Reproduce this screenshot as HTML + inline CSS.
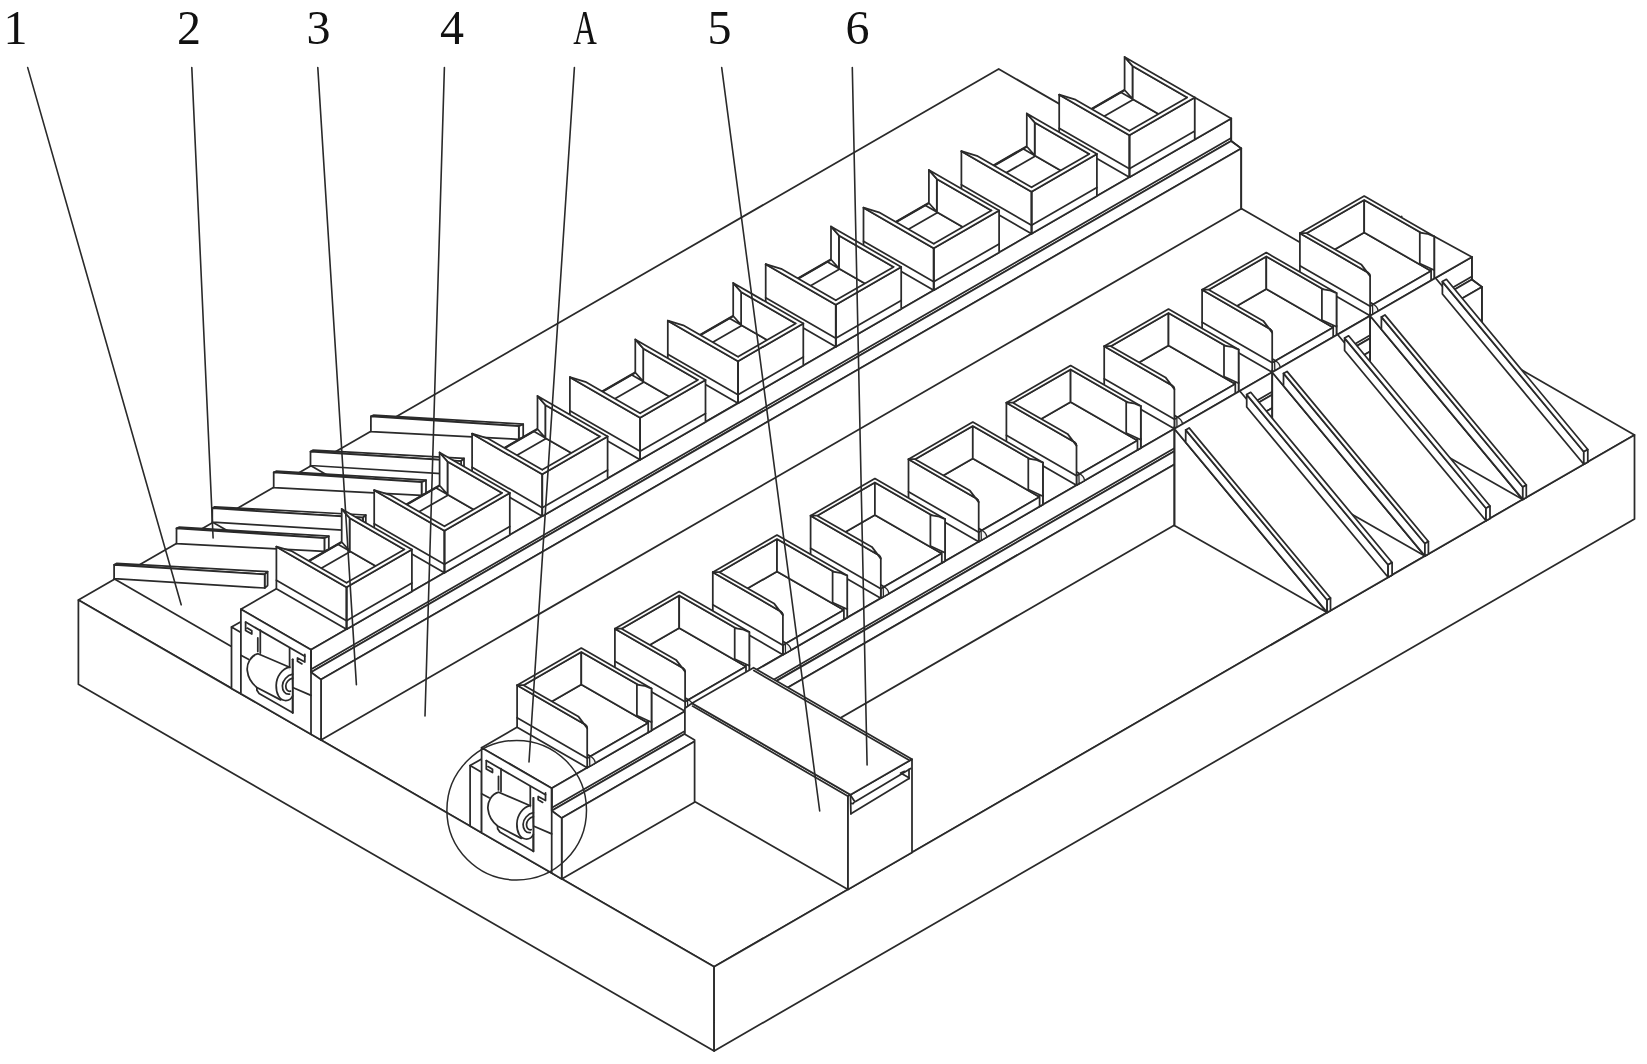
<!DOCTYPE html>
<html><head><meta charset="utf-8"><title>Figure</title>
<style>html,body{margin:0;padding:0;background:#fff;}body{width:1647px;height:1064px;overflow:hidden;font-family:"Liberation Serif",serif;}svg{display:block;filter:blur(0.3px);}</style></head>
<body>
<svg width="1647" height="1064" viewBox="0 0 1647 1064" fill="#fff" stroke="#2a2a2a" stroke-width="1.75" stroke-linejoin="round" stroke-linecap="round">
<path d="M78.4,600.1 L998.7,69.0 L1634.5,434.9 L714.1,966.8 Z" fill="#fff"/>
<path d="M78.4,600.1 L714.1,966.8 L714.1,1051.0 L78.4,684.3 Z" fill="#fff"/>
<path d="M714.1,966.8 L1634.5,434.9 L1634.5,519.1 L714.1,1051.0 Z" fill="#fff"/>
<path d="M114.1,578.7 L231.0,646.2"/>
<path d="M212.3,522.1 L238.3,537.1"/>
<path d="M310.5,465.5 L336.5,480.5"/>
<path d="M370.9,416.4 L373.4,415.2 L523.2,424.2 L518.8,426.2 Z" fill="#fff"/>
<path d="M518.8,426.2 L523.2,424.2 L523.2,437.4 L518.8,439.3 Z" fill="#fff"/>
<path d="M370.9,416.4 L518.8,426.2 L518.8,439.3 L370.9,431.7 Z" fill="#fff"/>
<path d="M310.5,451.6 L312.9,450.2 L464.0,458.4 L461.1,461.1 Z" fill="#fff"/>
<path d="M461.1,461.1 L464.0,458.4 L464.0,472.4 L461.1,474.8 Z" fill="#fff"/>
<path d="M310.5,451.6 L461.1,461.1 L461.1,474.8 L310.5,465.5 Z" fill="#fff"/>
<path d="M273.7,472.4 L276.2,471.2 L426.0,480.2 L421.6,482.2 Z" fill="#fff"/>
<path d="M421.6,482.2 L426.0,480.2 L426.0,493.4 L421.6,495.3 Z" fill="#fff"/>
<path d="M273.7,472.4 L421.6,482.2 L421.6,495.3 L273.7,487.7 Z" fill="#fff"/>
<path d="M212.3,508.2 L214.7,506.8 L365.8,515.0 L362.9,517.7 Z" fill="#fff"/>
<path d="M362.9,517.7 L365.8,515.0 L365.8,529.0 L362.9,531.4 Z" fill="#fff"/>
<path d="M212.3,508.2 L362.9,517.7 L362.9,531.4 L212.3,522.1 Z" fill="#fff"/>
<path d="M176.5,528.4 L179.0,527.2 L328.8,536.2 L324.4,538.2 Z" fill="#fff"/>
<path d="M324.4,538.2 L328.8,536.2 L328.8,549.4 L324.4,551.3 Z" fill="#fff"/>
<path d="M176.5,528.4 L324.4,538.2 L324.4,551.3 L176.5,543.7 Z" fill="#fff"/>
<path d="M114.1,564.8 L116.5,563.4 L267.6,571.6 L264.7,574.3 Z" fill="#fff"/>
<path d="M264.7,574.3 L267.6,571.6 L267.6,585.6 L264.7,588.0 Z" fill="#fff"/>
<path d="M114.1,564.8 L264.7,574.3 L264.7,588.0 L114.1,578.7 Z" fill="#fff"/>
<path d="M240.9,609.2 L311.0,649.7 L1231.2,118.5 L1161.0,78.0 Z" fill="#fff" stroke="none"/>
<path d="M1161.0,78.0 L240.9,609.2 L311.0,649.7 L1231.2,118.5" fill="none"/>
<path d="M311.0,649.7 L1231.2,118.5 L1231.2,141.0 L311.0,672.2 Z" fill="#fff"/>
<path d="M311.6,669.1 L1231.2,137.9"/>
<path d="M311.0,672.2 L1231.2,141.0 L1241.2,148.4 L321.0,679.6 Z" fill="#fff"/>
<path d="M321.0,679.6 L1241.2,148.4 L1241.2,208.8 L321.0,740.0 Z" fill="#fff"/>
<path d="M1063.1,125.5 L1129.4,163.8 L1187.2,130.5 L1120.8,92.2 Z" fill="#fff"/>
<path d="M1063.1,125.5 L1124.6,90.0" stroke-width="2.4"/>
<path d="M1075.5,132.7 L1133.3,99.4"/>
<path d="M1132.5,98.9 L1187.2,130.5 L1187.2,97.5 L1132.5,65.9 Z" fill="#fff"/>
<path d="M1124.6,90.0 L1132.5,98.9 L1132.5,65.9 L1124.6,57.0 Z" fill="#fff"/>
<path d="M1124.6,57.0 L1194.8,97.5 L1187.2,97.5 L1132.5,65.9 Z" fill="#fff" stroke="none"/>
<path d="M1194.8,97.5 L1124.6,57.0 L1132.5,65.9 L1187.2,97.5" fill="none"/>
<path d="M1129.4,177.2 L1194.8,139.5 L1194.8,97.5 L1129.4,135.2 Z" fill="#fff"/>
<path d="M1129.4,168.7 L1194.8,131.0"/>
<path d="M1129.4,135.2 L1194.8,97.5 L1187.2,97.5 L1129.4,130.8 Z" fill="#fff" stroke="none"/>
<path d="M1187.2,97.5 L1129.4,130.8" fill="none"/>
<path d="M1129.4,135.2 L1194.8,97.5"/>
<path d="M1059.2,136.7 L1129.4,177.2 L1129.4,135.2 L1059.2,94.7 Z" fill="#fff"/>
<path d="M1059.2,128.2 L1129.4,168.7"/>
<path d="M1059.2,94.7 L1129.4,135.2 L1129.4,130.8 L1074.7,99.3 Z" fill="#fff" stroke="none"/>
<path d="M1059.2,94.7 L1074.7,99.3 L1129.4,130.8" fill="none"/>
<path d="M1059.2,94.7 L1129.4,135.2"/>
<path d="M1129.4,135.2 L1129.4,177.2"/>
<path d="M1194.8,97.5 L1231.2,118.5 L1194.8,139.5 Z" fill="#fff"/>
<path d="M965.2,182.0 L1031.5,220.3 L1089.3,187.0 L1023.0,148.7 Z" fill="#fff"/>
<path d="M965.2,182.0 L1026.8,146.5" stroke-width="2.4"/>
<path d="M977.7,189.2 L1035.4,155.9"/>
<path d="M1034.7,155.4 L1089.3,187.0 L1089.3,154.0 L1034.7,122.4 Z" fill="#fff"/>
<path d="M1026.8,146.5 L1034.7,155.4 L1034.7,122.4 L1026.8,113.5 Z" fill="#fff"/>
<path d="M1026.8,113.5 L1096.9,154.0 L1089.3,154.0 L1034.7,122.4 Z" fill="#fff" stroke="none"/>
<path d="M1096.9,154.0 L1026.8,113.5 L1034.7,122.4 L1089.3,154.0" fill="none"/>
<path d="M1031.5,233.7 L1096.9,196.0 L1096.9,154.0 L1031.5,191.7 Z" fill="#fff"/>
<path d="M1031.5,225.2 L1096.9,187.5"/>
<path d="M1031.5,191.7 L1096.9,154.0 L1089.3,154.0 L1031.5,187.3 Z" fill="#fff" stroke="none"/>
<path d="M1089.3,154.0 L1031.5,187.3" fill="none"/>
<path d="M1031.5,191.7 L1096.9,154.0"/>
<path d="M961.4,193.2 L1031.5,233.7 L1031.5,191.7 L961.4,151.2 Z" fill="#fff"/>
<path d="M961.4,184.7 L1031.5,225.2"/>
<path d="M961.4,151.2 L1031.5,191.7 L1031.5,187.3 L976.9,155.8 Z" fill="#fff" stroke="none"/>
<path d="M961.4,151.2 L976.9,155.8 L1031.5,187.3" fill="none"/>
<path d="M961.4,151.2 L1031.5,191.7"/>
<path d="M1031.5,191.7 L1031.5,233.7"/>
<path d="M867.3,238.5 L933.7,276.8 L991.4,243.5 L925.1,205.2 Z" fill="#fff"/>
<path d="M867.3,238.5 L928.9,203.0" stroke-width="2.4"/>
<path d="M879.8,245.7 L937.6,212.4"/>
<path d="M936.8,211.9 L991.4,243.5 L991.4,210.5 L936.8,178.9 Z" fill="#fff"/>
<path d="M928.9,203.0 L936.8,211.9 L936.8,178.9 L928.9,170.0 Z" fill="#fff"/>
<path d="M928.9,170.0 L999.1,210.5 L991.4,210.5 L936.8,178.9 Z" fill="#fff" stroke="none"/>
<path d="M999.1,210.5 L928.9,170.0 L936.8,178.9 L991.4,210.5" fill="none"/>
<path d="M933.7,290.2 L999.1,252.5 L999.1,210.5 L933.7,248.2 Z" fill="#fff"/>
<path d="M933.7,281.7 L999.1,244.0"/>
<path d="M933.7,248.2 L999.1,210.5 L991.4,210.5 L933.7,243.8 Z" fill="#fff" stroke="none"/>
<path d="M991.4,210.5 L933.7,243.8" fill="none"/>
<path d="M933.7,248.2 L999.1,210.5"/>
<path d="M863.5,249.7 L933.7,290.2 L933.7,248.2 L863.5,207.7 Z" fill="#fff"/>
<path d="M863.5,241.2 L933.7,281.7"/>
<path d="M863.5,207.7 L933.7,248.2 L933.7,243.8 L879.0,212.3 Z" fill="#fff" stroke="none"/>
<path d="M863.5,207.7 L879.0,212.3 L933.7,243.8" fill="none"/>
<path d="M863.5,207.7 L933.7,248.2"/>
<path d="M933.7,248.2 L933.7,290.2"/>
<path d="M769.5,295.0 L835.8,333.3 L893.6,300.0 L827.2,261.7 Z" fill="#fff"/>
<path d="M769.5,295.0 L831.0,259.5" stroke-width="2.4"/>
<path d="M781.9,302.2 L839.7,268.9"/>
<path d="M838.9,268.4 L893.6,300.0 L893.6,267.0 L838.9,235.4 Z" fill="#fff"/>
<path d="M831.0,259.5 L838.9,268.4 L838.9,235.4 L831.0,226.5 Z" fill="#fff"/>
<path d="M831.0,226.5 L901.2,267.0 L893.6,267.0 L838.9,235.4 Z" fill="#fff" stroke="none"/>
<path d="M901.2,267.0 L831.0,226.5 L838.9,235.4 L893.6,267.0" fill="none"/>
<path d="M835.8,346.7 L901.2,309.0 L901.2,267.0 L835.8,304.7 Z" fill="#fff"/>
<path d="M835.8,338.2 L901.2,300.5"/>
<path d="M835.8,304.7 L901.2,267.0 L893.6,267.0 L835.8,300.3 Z" fill="#fff" stroke="none"/>
<path d="M893.6,267.0 L835.8,300.3" fill="none"/>
<path d="M835.8,304.7 L901.2,267.0"/>
<path d="M765.7,306.2 L835.8,346.7 L835.8,304.7 L765.7,264.2 Z" fill="#fff"/>
<path d="M765.7,297.7 L835.8,338.2"/>
<path d="M765.7,264.2 L835.8,304.7 L835.8,300.3 L781.2,268.8 Z" fill="#fff" stroke="none"/>
<path d="M765.7,264.2 L781.2,268.8 L835.8,300.3" fill="none"/>
<path d="M765.7,264.2 L835.8,304.7"/>
<path d="M835.8,304.7 L835.8,346.7"/>
<path d="M671.6,351.5 L738.0,389.8 L795.7,356.5 L729.4,318.2 Z" fill="#fff"/>
<path d="M671.6,351.5 L733.2,316.0" stroke-width="2.4"/>
<path d="M684.1,358.7 L741.8,325.4"/>
<path d="M741.1,324.9 L795.7,356.5 L795.7,323.5 L741.1,291.9 Z" fill="#fff"/>
<path d="M733.2,316.0 L741.1,324.9 L741.1,291.9 L733.2,283.0 Z" fill="#fff"/>
<path d="M733.2,283.0 L803.3,323.5 L795.7,323.5 L741.1,291.9 Z" fill="#fff" stroke="none"/>
<path d="M803.3,323.5 L733.2,283.0 L741.1,291.9 L795.7,323.5" fill="none"/>
<path d="M738.0,403.2 L803.3,365.5 L803.3,323.5 L738.0,361.2 Z" fill="#fff"/>
<path d="M738.0,394.7 L803.3,357.0"/>
<path d="M738.0,361.2 L803.3,323.5 L795.7,323.5 L738.0,356.8 Z" fill="#fff" stroke="none"/>
<path d="M795.7,323.5 L738.0,356.8" fill="none"/>
<path d="M738.0,361.2 L803.3,323.5"/>
<path d="M667.8,362.7 L738.0,403.2 L738.0,361.2 L667.8,320.7 Z" fill="#fff"/>
<path d="M667.8,354.2 L738.0,394.7"/>
<path d="M667.8,320.7 L738.0,361.2 L738.0,356.8 L683.3,325.3 Z" fill="#fff" stroke="none"/>
<path d="M667.8,320.7 L683.3,325.3 L738.0,356.8" fill="none"/>
<path d="M667.8,320.7 L738.0,361.2"/>
<path d="M738.0,361.2 L738.0,403.2"/>
<path d="M573.8,408.0 L640.1,446.3 L697.9,413.0 L631.5,374.7 Z" fill="#fff"/>
<path d="M573.8,408.0 L635.3,372.5" stroke-width="2.4"/>
<path d="M586.2,415.2 L644.0,381.9"/>
<path d="M643.2,381.4 L697.9,413.0 L697.9,380.0 L643.2,348.4 Z" fill="#fff"/>
<path d="M635.3,372.5 L643.2,381.4 L643.2,348.4 L635.3,339.5 Z" fill="#fff"/>
<path d="M635.3,339.5 L705.5,380.0 L697.9,380.0 L643.2,348.4 Z" fill="#fff" stroke="none"/>
<path d="M705.5,380.0 L635.3,339.5 L643.2,348.4 L697.9,380.0" fill="none"/>
<path d="M640.1,459.7 L705.5,422.0 L705.5,380.0 L640.1,417.7 Z" fill="#fff"/>
<path d="M640.1,451.2 L705.5,413.5"/>
<path d="M640.1,417.7 L705.5,380.0 L697.9,380.0 L640.1,413.3 Z" fill="#fff" stroke="none"/>
<path d="M697.9,380.0 L640.1,413.3" fill="none"/>
<path d="M640.1,417.7 L705.5,380.0"/>
<path d="M569.9,419.2 L640.1,459.7 L640.1,417.7 L569.9,377.2 Z" fill="#fff"/>
<path d="M569.9,410.7 L640.1,451.2"/>
<path d="M569.9,377.2 L640.1,417.7 L640.1,413.3 L585.4,381.8 Z" fill="#fff" stroke="none"/>
<path d="M569.9,377.2 L585.4,381.8 L640.1,413.3" fill="none"/>
<path d="M569.9,377.2 L640.1,417.7"/>
<path d="M640.1,417.7 L640.1,459.7"/>
<path d="M475.9,464.5 L542.2,502.8 L600.0,469.4 L533.7,431.2 Z" fill="#fff"/>
<path d="M475.9,464.5 L537.5,429.0" stroke-width="2.4"/>
<path d="M488.4,471.7 L546.1,438.4"/>
<path d="M545.3,437.9 L600.0,469.4 L600.0,436.4 L545.3,404.9 Z" fill="#fff"/>
<path d="M537.5,429.0 L545.3,437.9 L545.3,404.9 L537.5,396.0 Z" fill="#fff"/>
<path d="M537.5,396.0 L607.6,436.5 L600.0,436.4 L545.3,404.9 Z" fill="#fff" stroke="none"/>
<path d="M607.6,436.5 L537.5,396.0 L545.3,404.9 L600.0,436.4" fill="none"/>
<path d="M542.2,516.2 L607.6,478.5 L607.6,436.5 L542.2,474.2 Z" fill="#fff"/>
<path d="M542.2,507.7 L607.6,470.0"/>
<path d="M542.2,474.2 L607.6,436.5 L600.0,436.4 L542.2,469.8 Z" fill="#fff" stroke="none"/>
<path d="M600.0,436.4 L542.2,469.8" fill="none"/>
<path d="M542.2,474.2 L607.6,436.5"/>
<path d="M472.1,475.7 L542.2,516.2 L542.2,474.2 L472.1,433.7 Z" fill="#fff"/>
<path d="M472.1,467.2 L542.2,507.7"/>
<path d="M472.1,433.7 L542.2,474.2 L542.2,469.8 L487.6,438.3 Z" fill="#fff" stroke="none"/>
<path d="M472.1,433.7 L487.6,438.3 L542.2,469.8" fill="none"/>
<path d="M472.1,433.7 L542.2,474.2"/>
<path d="M542.2,474.2 L542.2,516.2"/>
<path d="M378.0,521.0 L444.4,559.3 L502.1,526.0 L435.8,487.7 Z" fill="#fff"/>
<path d="M378.0,521.0 L439.6,485.5" stroke-width="2.4"/>
<path d="M390.5,528.2 L448.3,494.9"/>
<path d="M447.5,494.4 L502.1,526.0 L502.1,493.0 L447.5,461.4 Z" fill="#fff"/>
<path d="M439.6,485.5 L447.5,494.4 L447.5,461.4 L439.6,452.5 Z" fill="#fff"/>
<path d="M439.6,452.5 L509.8,493.0 L502.1,493.0 L447.5,461.4 Z" fill="#fff" stroke="none"/>
<path d="M509.8,493.0 L439.6,452.5 L447.5,461.4 L502.1,493.0" fill="none"/>
<path d="M444.4,572.7 L509.8,535.0 L509.8,493.0 L444.4,530.7 Z" fill="#fff"/>
<path d="M444.4,564.2 L509.8,526.5"/>
<path d="M444.4,530.7 L509.8,493.0 L502.1,493.0 L444.4,526.3 Z" fill="#fff" stroke="none"/>
<path d="M502.1,493.0 L444.4,526.3" fill="none"/>
<path d="M444.4,530.7 L509.8,493.0"/>
<path d="M374.2,532.2 L444.4,572.7 L444.4,530.7 L374.2,490.2 Z" fill="#fff"/>
<path d="M374.2,523.7 L444.4,564.2"/>
<path d="M374.2,490.2 L444.4,530.7 L444.4,526.3 L389.7,494.8 Z" fill="#fff" stroke="none"/>
<path d="M374.2,490.2 L389.7,494.8 L444.4,526.3" fill="none"/>
<path d="M374.2,490.2 L444.4,530.7"/>
<path d="M444.4,530.7 L444.4,572.7"/>
<path d="M280.2,577.5 L346.5,615.8 L404.3,582.5 L337.9,544.2 Z" fill="#fff"/>
<path d="M280.2,577.5 L341.7,542.0" stroke-width="2.4"/>
<path d="M292.6,584.7 L350.4,551.4"/>
<path d="M349.6,550.9 L404.3,582.5 L404.3,549.5 L349.6,517.9 Z" fill="#fff"/>
<path d="M341.7,542.0 L349.6,550.9 L349.6,517.9 L341.7,509.0 Z" fill="#fff"/>
<path d="M341.7,509.0 L411.9,549.5 L404.3,549.5 L349.6,517.9 Z" fill="#fff" stroke="none"/>
<path d="M411.9,549.5 L341.7,509.0 L349.6,517.9 L404.3,549.5" fill="none"/>
<path d="M346.5,629.2 L411.9,591.5 L411.9,549.5 L346.5,587.2 Z" fill="#fff"/>
<path d="M346.5,620.7 L411.9,583.0"/>
<path d="M346.5,587.2 L411.9,549.5 L404.3,549.5 L346.5,582.8 Z" fill="#fff" stroke="none"/>
<path d="M404.3,549.5 L346.5,582.8" fill="none"/>
<path d="M346.5,587.2 L411.9,549.5"/>
<path d="M276.4,588.7 L346.5,629.2 L346.5,587.2 L276.4,546.7 Z" fill="#fff"/>
<path d="M276.4,580.2 L346.5,620.7"/>
<path d="M276.4,546.7 L346.5,587.2 L346.5,582.8 L291.9,551.2 Z" fill="#fff" stroke="none"/>
<path d="M276.4,546.7 L291.9,551.2 L346.5,582.8" fill="none"/>
<path d="M276.4,546.7 L346.5,587.2"/>
<path d="M346.5,587.2 L346.5,629.2"/>
<path d="M1231.2,118.5 L1231.2,141.0"/>
<path d="M1231.2,141.0 L1241.2,148.4"/>
<path d="M1241.2,148.4 L1241.2,208.8"/>
<path d="M231.5,627.1 L240.9,632.5 L240.9,693.8 L231.5,688.4 Z" fill="#fff"/>
<path d="M231.5,627.1 L240.9,621.7"/>
<path d="M240.9,609.2 L311.0,649.7 L311.0,672.2 L321.0,679.6 L321.0,740.0 L311.0,734.3 L240.9,693.8 Z" fill="#fff"/>
<path d="M311.0,649.7 L311.0,734.3"/>
<path d="M245.6,622.1 L304.8,656.3" fill="none"/>
<path d="M245.6,622.1 L245.6,630.5 L251.8,634.1 L251.8,630.7 L247.3,628.1" fill="none"/>
<path d="M304.8,654.3 L304.8,662.1 L297.5,657.9 L297.5,661.3 L302.0,663.9" fill="none"/>
<path d="M260.3,630.2 L260.3,653.1"/>
<path d="M257.8,637.9 L257.8,651.4"/>
<path d="M289.6,648.0 L289.6,667.2"/>
<path d="M292.7,659.3 L292.7,712.8"/>
<path d="M240.9,655.3 L248.4,659.3"/>
<path d="M292.7,687.5 L311.0,695.4"/>
<path d="M256.9,687.5 L256.9,690.3 L259.1,693.6 L292.7,712.8" fill="none"/>
<path d="M258.0,653.7 C250.5,655.7 246.5,663.7 247.3,670.7 C248.0,677.7 252.0,683.7 256.9,687.5 L280.6,699.9 L289.6,667.2 Z" fill="#fff"/>
<path d="M289.6,667.2 C282.0,668.7 276.5,676.7 276.2,685.2 C276.0,693.7 279.5,700.2 285.0,700.5 C288.5,700.7 291.5,698.7 292.7,695.7" fill="#fff"/>
<path d="M292.7,674.2 C287.0,675.2 282.5,680.7 282.4,685.7 C282.3,690.7 285.0,694.7 289.5,694.2" fill="none"/>
<path d="M292.7,678.2 C288.5,679.2 285.8,682.7 285.8,686.0 C285.8,689.2 287.5,691.7 290.5,691.2" fill="none"/>
<path d="M292.7,659.3 L292.7,712.8"/>
<path d="M481.6,747.7 L551.7,788.2 L1471.9,257.0 L1401.7,216.5 Z" fill="#fff" stroke="none"/>
<path d="M1401.7,216.5 L481.6,747.7 L551.7,788.2 L1471.9,257.0" fill="none"/>
<path d="M551.7,788.2 L1471.9,257.0 L1471.9,279.5 L551.7,810.7 Z" fill="#fff"/>
<path d="M552.3,807.6 L1471.9,276.4"/>
<path d="M551.7,810.7 L1471.9,279.5 L1481.9,286.9 L561.7,818.1 Z" fill="#fff"/>
<path d="M561.7,818.1 L1481.9,286.9 L1481.9,347.6 L561.7,878.9 Z" fill="#fff"/>
<path d="M1471.9,257.0 L1471.9,279.5"/>
<path d="M1471.9,279.5 L1481.9,286.9"/>
<path d="M1481.9,286.9 L1481.9,347.6"/>
<path d="M1306.5,265.7 L1373.4,304.3 L1431.1,271.0 L1364.2,232.4 Z" fill="#fff"/>
<path d="M1370.1,315.7 L1434.4,278.6 L1434.4,269.1 L1370.1,306.2 Z" fill="#fff"/>
<path d="M1306.5,265.7 L1364.2,232.4 L1364.2,199.9 L1306.5,233.2 Z" fill="#fff"/>
<path d="M1364.2,232.4 L1431.1,271.0 L1431.1,238.5 L1364.2,199.9 Z" fill="#fff"/>
<path d="M1299.9,233.2 L1364.2,196.1 L1364.2,199.9 L1306.5,233.2 Z" fill="#fff" stroke="none"/>
<path d="M1364.2,196.1 L1434.4,236.6 L1431.1,238.5 L1364.2,199.9 Z" fill="#fff" stroke="none"/>
<path d="M1299.9,233.2 L1364.2,196.1 L1434.4,236.6" fill="none"/>
<path d="M1306.5,233.2 L1364.2,199.9 L1431.1,238.5" fill="none"/>
<path d="M1431.1,280.5 L1434.4,278.6 L1434.4,236.6 L1431.1,238.5 Z" fill="#fff"/>
<path d="M1419.8,232.6 L1427.4,233.8 L1434.4,236.6 L1434.4,270.2 L1419.8,263.5 Z" fill="#fff"/>
<path d="M1299.9,275.2 L1370.1,315.7 L1370.1,276.1 Q1370.0,273.9 1367.8,272.4 L1299.9,233.2 Z" fill="#fff"/>
<path d="M1299.9,265.7 L1370.1,306.2"/>
<path d="M1299.9,233.2 L1367.8,272.4 Q1370.0,273.9 1370.1,276.1 L1361.2,264.4 L1306.5,233.2 Z" fill="#fff"/>
<path d="M1372.5,304.2 Q1377.7,306.2 1378.1,311.1 L1372.7,314.3 L1372.5,304.2 Z" fill="#f4f4f4" stroke-width="1.3"/>
<path d="M1434.4,236.6 L1471.9,257.0 L1434.4,278.6 Z" fill="#fff"/>
<path d="M1370.1,315.7 L1522.8,499.4 L1370.1,412.4 Z" fill="#fff"/>
<path d="M1370.1,313.7 L1370.1,412.4"/>
<path d="M1370.1,315.7 L1522.8,499.4 L1588.2,461.7 L1435.5,278.0 Z" fill="#fff"/>
<path d="M1442.4,294.0 L1583.8,464.2 L1583.8,451.8 L1442.4,281.6 Z" fill="#fff"/>
<path d="M1442.4,281.6 L1583.8,451.8 L1587.8,449.5 L1446.4,279.3 Z" fill="#fff"/>
<path d="M1583.8,464.2 L1587.8,461.9 L1587.8,449.5 L1583.8,451.8 Z" fill="#fff"/>
<path d="M1381.4,329.3 L1522.8,499.4 L1522.8,487.0 L1381.4,316.9 Z" fill="#fff"/>
<path d="M1381.4,316.9 L1522.8,487.0 L1526.3,485.0 L1384.9,314.9 Z" fill="#fff"/>
<path d="M1522.8,499.4 L1526.3,497.4 L1526.3,485.0 L1522.8,487.0 Z" fill="#fff"/>
<path d="M1208.7,322.2 L1275.5,360.8 L1333.2,327.5 L1266.3,288.9 Z" fill="#fff"/>
<path d="M1272.2,372.2 L1336.5,335.1 L1336.5,325.6 L1272.2,362.7 Z" fill="#fff"/>
<path d="M1208.7,322.2 L1266.3,288.9 L1266.3,256.4 L1208.7,289.7 Z" fill="#fff"/>
<path d="M1266.3,288.9 L1333.2,327.5 L1333.2,295.0 L1266.3,256.4 Z" fill="#fff"/>
<path d="M1202.1,289.7 L1266.3,252.6 L1266.3,256.4 L1208.7,289.7 Z" fill="#fff" stroke="none"/>
<path d="M1266.3,252.6 L1336.5,293.1 L1333.2,295.0 L1266.3,256.4 Z" fill="#fff" stroke="none"/>
<path d="M1202.1,289.7 L1266.3,252.6 L1336.5,293.1" fill="none"/>
<path d="M1208.7,289.7 L1266.3,256.4 L1333.2,295.0" fill="none"/>
<path d="M1333.2,337.0 L1336.5,335.1 L1336.5,293.1 L1333.2,295.0 Z" fill="#fff"/>
<path d="M1321.9,289.1 L1329.5,290.3 L1336.5,293.1 L1336.5,326.7 L1321.9,320.0 Z" fill="#fff"/>
<path d="M1202.1,331.7 L1272.2,372.2 L1272.2,332.6 Q1272.1,330.4 1270.0,328.9 L1202.1,289.7 Z" fill="#fff"/>
<path d="M1202.1,322.2 L1272.2,362.7"/>
<path d="M1202.1,289.7 L1270.0,328.9 Q1272.1,330.4 1272.2,332.6 L1263.3,320.9 L1208.7,289.7 Z" fill="#fff"/>
<path d="M1274.6,360.7 Q1279.8,362.7 1280.2,367.6 L1274.8,370.8 L1274.6,360.7 Z" fill="#f4f4f4" stroke-width="1.3"/>
<path d="M1272.2,372.2 L1424.9,555.9 L1272.2,468.9 Z" fill="#fff"/>
<path d="M1272.2,370.2 L1272.2,468.9"/>
<path d="M1272.2,372.2 L1424.9,555.9 L1490.3,518.2 L1337.6,334.5 Z" fill="#fff"/>
<path d="M1344.6,350.5 L1486.0,520.7 L1486.0,508.3 L1344.6,338.1 Z" fill="#fff"/>
<path d="M1344.6,338.1 L1486.0,508.3 L1490.0,506.0 L1348.6,335.8 Z" fill="#fff"/>
<path d="M1486.0,520.7 L1490.0,518.4 L1490.0,506.0 L1486.0,508.3 Z" fill="#fff"/>
<path d="M1283.5,385.8 L1424.9,555.9 L1424.9,543.5 L1283.5,373.4 Z" fill="#fff"/>
<path d="M1283.5,373.4 L1424.9,543.5 L1428.4,541.5 L1287.0,371.4 Z" fill="#fff"/>
<path d="M1424.9,555.9 L1428.4,553.9 L1428.4,541.5 L1424.9,543.5 Z" fill="#fff"/>
<path d="M1110.8,378.7 L1177.7,417.3 L1235.3,384.0 L1168.5,345.4 Z" fill="#fff"/>
<path d="M1174.4,428.7 L1238.6,391.6 L1238.6,382.1 L1174.4,419.2 Z" fill="#fff"/>
<path d="M1110.8,378.7 L1168.5,345.4 L1168.5,312.9 L1110.8,346.2 Z" fill="#fff"/>
<path d="M1168.5,345.4 L1235.3,384.0 L1235.3,351.5 L1168.5,312.9 Z" fill="#fff"/>
<path d="M1104.2,346.2 L1168.5,309.1 L1168.5,312.9 L1110.8,346.2 Z" fill="#fff" stroke="none"/>
<path d="M1168.5,309.1 L1238.6,349.6 L1235.3,351.5 L1168.5,312.9 Z" fill="#fff" stroke="none"/>
<path d="M1104.2,346.2 L1168.5,309.1 L1238.6,349.6" fill="none"/>
<path d="M1110.8,346.2 L1168.5,312.9 L1235.3,351.5" fill="none"/>
<path d="M1235.3,393.5 L1238.6,391.6 L1238.6,349.6 L1235.3,351.5 Z" fill="#fff"/>
<path d="M1224.0,345.6 L1231.6,346.8 L1238.6,349.6 L1238.6,383.2 L1224.0,376.5 Z" fill="#fff"/>
<path d="M1104.2,388.2 L1174.4,428.7 L1174.4,389.1 Q1174.3,386.9 1172.1,385.4 L1104.2,346.2 Z" fill="#fff"/>
<path d="M1104.2,378.7 L1174.4,419.2"/>
<path d="M1104.2,346.2 L1172.1,385.4 Q1174.3,386.9 1174.4,389.1 L1165.5,377.4 L1110.8,346.2 Z" fill="#fff"/>
<path d="M1176.8,417.2 Q1182.0,419.2 1182.4,424.1 L1177.0,427.3 L1176.8,417.2 Z" fill="#f4f4f4" stroke-width="1.3"/>
<path d="M1174.4,428.7 L1327.1,612.4 L1174.4,525.4 Z" fill="#fff"/>
<path d="M1174.4,426.7 L1174.4,525.4"/>
<path d="M1174.4,428.7 L1327.1,612.4 L1392.5,574.7 L1239.8,391.0 Z" fill="#fff"/>
<path d="M1246.7,407.0 L1388.1,577.2 L1388.1,564.8 L1246.7,394.6 Z" fill="#fff"/>
<path d="M1246.7,394.6 L1388.1,564.8 L1392.1,562.5 L1250.7,392.3 Z" fill="#fff"/>
<path d="M1388.1,577.2 L1392.1,574.9 L1392.1,562.5 L1388.1,564.8 Z" fill="#fff"/>
<path d="M1185.7,442.3 L1327.1,612.4 L1327.1,600.0 L1185.7,429.9 Z" fill="#fff"/>
<path d="M1185.7,429.9 L1327.1,600.0 L1330.5,598.0 L1189.1,427.9 Z" fill="#fff"/>
<path d="M1327.1,612.4 L1330.5,610.4 L1330.5,598.0 L1327.1,600.0 Z" fill="#fff"/>
<path d="M1012.9,435.2 L1079.8,473.8 L1137.5,440.5 L1070.6,401.9 Z" fill="#fff"/>
<path d="M1076.5,485.2 L1140.8,448.1 L1140.8,438.6 L1076.5,475.7 Z" fill="#fff"/>
<path d="M1012.9,435.2 L1070.6,401.9 L1070.6,369.4 L1012.9,402.7 Z" fill="#fff"/>
<path d="M1070.6,401.9 L1137.5,440.5 L1137.5,408.0 L1070.6,369.4 Z" fill="#fff"/>
<path d="M1006.4,402.7 L1070.6,365.6 L1070.6,369.4 L1012.9,402.7 Z" fill="#fff" stroke="none"/>
<path d="M1070.6,365.6 L1140.8,406.1 L1137.5,408.0 L1070.6,369.4 Z" fill="#fff" stroke="none"/>
<path d="M1006.4,402.7 L1070.6,365.6 L1140.8,406.1" fill="none"/>
<path d="M1012.9,402.7 L1070.6,369.4 L1137.5,408.0" fill="none"/>
<path d="M1137.5,450.0 L1140.8,448.1 L1140.8,406.1 L1137.5,408.0 Z" fill="#fff"/>
<path d="M1126.2,402.1 L1133.8,403.3 L1140.8,406.1 L1140.8,439.7 L1126.2,433.0 Z" fill="#fff"/>
<path d="M1006.4,444.7 L1076.5,485.2 L1076.5,445.6 Q1076.4,443.4 1074.3,441.9 L1006.4,402.7 Z" fill="#fff"/>
<path d="M1006.4,435.2 L1076.5,475.7"/>
<path d="M1006.4,402.7 L1074.3,441.9 Q1076.4,443.4 1076.5,445.6 L1067.6,433.9 L1012.9,402.7 Z" fill="#fff"/>
<path d="M1078.9,473.7 Q1084.1,475.7 1084.5,480.6 L1079.1,483.8 L1078.9,473.7 Z" fill="#f4f4f4" stroke-width="1.3"/>
<path d="M915.1,491.7 L981.9,530.3 L1039.6,497.0 L972.8,458.4 Z" fill="#fff"/>
<path d="M978.7,541.7 L1042.9,504.6 L1042.9,495.1 L978.7,532.2 Z" fill="#fff"/>
<path d="M915.1,491.7 L972.8,458.4 L972.8,425.9 L915.1,459.2 Z" fill="#fff"/>
<path d="M972.8,458.4 L1039.6,497.0 L1039.6,464.5 L972.8,425.9 Z" fill="#fff"/>
<path d="M908.5,459.2 L972.8,422.1 L972.8,425.9 L915.1,459.2 Z" fill="#fff" stroke="none"/>
<path d="M972.8,422.1 L1042.9,462.6 L1039.6,464.5 L972.8,425.9 Z" fill="#fff" stroke="none"/>
<path d="M908.5,459.2 L972.8,422.1 L1042.9,462.6" fill="none"/>
<path d="M915.1,459.2 L972.8,425.9 L1039.6,464.5" fill="none"/>
<path d="M1039.6,506.5 L1042.9,504.6 L1042.9,462.6 L1039.6,464.5 Z" fill="#fff"/>
<path d="M1028.3,458.6 L1035.9,459.8 L1042.9,462.6 L1042.9,496.2 L1028.3,489.5 Z" fill="#fff"/>
<path d="M908.5,501.2 L978.7,541.7 L978.7,502.1 Q978.6,499.9 976.4,498.4 L908.5,459.2 Z" fill="#fff"/>
<path d="M908.5,491.7 L978.7,532.2"/>
<path d="M908.5,459.2 L976.4,498.4 Q978.6,499.9 978.7,502.1 L969.7,490.4 L915.1,459.2 Z" fill="#fff"/>
<path d="M981.1,530.2 Q986.3,532.2 986.7,537.1 L981.3,540.3 L981.1,530.2 Z" fill="#f4f4f4" stroke-width="1.3"/>
<path d="M817.2,548.2 L884.1,586.8 L941.8,553.5 L874.9,514.9 Z" fill="#fff"/>
<path d="M880.8,598.2 L945.0,561.1 L945.0,551.6 L880.8,588.7 Z" fill="#fff"/>
<path d="M817.2,548.2 L874.9,514.9 L874.9,482.4 L817.2,515.7 Z" fill="#fff"/>
<path d="M874.9,514.9 L941.8,553.5 L941.8,521.0 L874.9,482.4 Z" fill="#fff"/>
<path d="M810.6,515.7 L874.9,478.6 L874.9,482.4 L817.2,515.7 Z" fill="#fff" stroke="none"/>
<path d="M874.9,478.6 L945.0,519.1 L941.8,521.0 L874.9,482.4 Z" fill="#fff" stroke="none"/>
<path d="M810.6,515.7 L874.9,478.6 L945.0,519.1" fill="none"/>
<path d="M817.2,515.7 L874.9,482.4 L941.8,521.0" fill="none"/>
<path d="M941.8,563.0 L945.0,561.1 L945.0,519.1 L941.8,521.0 Z" fill="#fff"/>
<path d="M930.4,515.1 L938.0,516.3 L945.0,519.1 L945.0,552.7 L930.4,546.0 Z" fill="#fff"/>
<path d="M810.6,557.7 L880.8,598.2 L880.8,558.6 Q880.7,556.4 878.5,554.9 L810.6,515.7 Z" fill="#fff"/>
<path d="M810.6,548.2 L880.8,588.7"/>
<path d="M810.6,515.7 L878.5,554.9 Q880.7,556.4 880.8,558.6 L871.9,546.9 L817.2,515.7 Z" fill="#fff"/>
<path d="M883.2,586.7 Q888.4,588.7 888.8,593.6 L883.4,596.8 L883.2,586.7 Z" fill="#f4f4f4" stroke-width="1.3"/>
<path d="M719.4,604.7 L786.2,643.3 L843.9,610.0 L777.0,571.4 Z" fill="#fff"/>
<path d="M782.9,654.7 L847.2,617.6 L847.2,608.1 L782.9,645.2 Z" fill="#fff"/>
<path d="M719.4,604.7 L777.0,571.4 L777.0,538.9 L719.4,572.2 Z" fill="#fff"/>
<path d="M777.0,571.4 L843.9,610.0 L843.9,577.5 L777.0,538.9 Z" fill="#fff"/>
<path d="M712.8,572.2 L777.0,535.1 L777.0,538.9 L719.4,572.2 Z" fill="#fff" stroke="none"/>
<path d="M777.0,535.1 L847.2,575.6 L843.9,577.5 L777.0,538.9 Z" fill="#fff" stroke="none"/>
<path d="M712.8,572.2 L777.0,535.1 L847.2,575.6" fill="none"/>
<path d="M719.4,572.2 L777.0,538.9 L843.9,577.5" fill="none"/>
<path d="M843.9,619.5 L847.2,617.6 L847.2,575.6 L843.9,577.5 Z" fill="#fff"/>
<path d="M832.6,571.6 L840.2,572.8 L847.2,575.6 L847.2,609.2 L832.6,602.5 Z" fill="#fff"/>
<path d="M712.8,614.2 L782.9,654.7 L782.9,615.1 Q782.8,612.9 780.7,611.4 L712.8,572.2 Z" fill="#fff"/>
<path d="M712.8,604.7 L782.9,645.2"/>
<path d="M712.8,572.2 L780.7,611.4 Q782.8,612.9 782.9,615.1 L774.0,603.4 L719.4,572.2 Z" fill="#fff"/>
<path d="M785.3,643.2 Q790.5,645.2 790.9,650.1 L785.5,653.3 L785.3,643.2 Z" fill="#f4f4f4" stroke-width="1.3"/>
<path d="M621.5,661.2 L688.4,699.8 L746.0,666.5 L679.2,627.9 Z" fill="#fff"/>
<path d="M685.1,711.2 L749.3,674.1 L749.3,664.6 L685.1,701.7 Z" fill="#fff"/>
<path d="M621.5,661.2 L679.2,627.9 L679.2,595.4 L621.5,628.7 Z" fill="#fff"/>
<path d="M679.2,627.9 L746.0,666.5 L746.0,634.0 L679.2,595.4 Z" fill="#fff"/>
<path d="M614.9,628.7 L679.2,591.6 L679.2,595.4 L621.5,628.7 Z" fill="#fff" stroke="none"/>
<path d="M679.2,591.6 L749.3,632.1 L746.0,634.0 L679.2,595.4 Z" fill="#fff" stroke="none"/>
<path d="M614.9,628.7 L679.2,591.6 L749.3,632.1" fill="none"/>
<path d="M621.5,628.7 L679.2,595.4 L746.0,634.0" fill="none"/>
<path d="M746.0,676.0 L749.3,674.1 L749.3,632.1 L746.0,634.0 Z" fill="#fff"/>
<path d="M734.7,628.1 L742.3,629.3 L749.3,632.1 L749.3,665.7 L734.7,659.0 Z" fill="#fff"/>
<path d="M614.9,670.7 L685.1,711.2 L685.1,671.6 Q685.0,669.4 682.8,667.9 L614.9,628.7 Z" fill="#fff"/>
<path d="M614.9,661.2 L685.1,701.7"/>
<path d="M614.9,628.7 L682.8,667.9 Q685.0,669.4 685.1,671.6 L676.1,659.9 L621.5,628.7 Z" fill="#fff"/>
<path d="M687.5,699.7 Q692.7,701.7 693.1,706.6 L687.7,709.8 L687.5,699.7 Z" fill="#f4f4f4" stroke-width="1.3"/>
<path d="M684.9,708.2 L692.0,703.2 L850.5,794.7 L848.0,796.1 L848.0,889.4 L694.6,801.5 L694.6,739.9 L684.9,734.2 Z" fill="#fff"/>
<path d="M850.5,794.7 L912.0,759.2 L912.0,852.5 L848.0,889.4 L848.0,796.1 Z" fill="#fff"/>
<path d="M692.0,703.2 L753.5,667.7 L912.0,759.2 L850.5,794.7 Z" fill="#fff"/>
<path d="M692.5,706.1 L848.0,796.2"/>
<path d="M753.8,670.5 L909.3,760.2"/>
<path d="M855.6,801.5 L910.7,768.5"/>
<path d="M850.9,813.8 L909.0,778.6"/>
<path d="M850.5,794.7 L850.9,813.8"/>
<path d="M909.0,769.4 L909.0,778.6"/>
<path d="M850.8,795.7 L854.7,801.5 L853.0,803.7 L850.8,803.3" fill="none"/>
<path d="M904.5,771.4 L900.6,773.1 L909.0,777.8" fill="none"/>
<path d="M523.6,717.7 L590.5,756.3 L648.2,723.0 L581.3,684.4 Z" fill="#fff"/>
<path d="M587.2,767.7 L651.5,730.6 L651.5,721.1 L587.2,758.2 Z" fill="#fff"/>
<path d="M523.6,717.7 L581.3,684.4 L581.3,651.9 L523.6,685.2 Z" fill="#fff"/>
<path d="M581.3,684.4 L648.2,723.0 L648.2,690.5 L581.3,651.9 Z" fill="#fff"/>
<path d="M517.1,685.2 L581.3,648.1 L581.3,651.9 L523.6,685.2 Z" fill="#fff" stroke="none"/>
<path d="M581.3,648.1 L651.5,688.6 L648.2,690.5 L581.3,651.9 Z" fill="#fff" stroke="none"/>
<path d="M517.1,685.2 L581.3,648.1 L651.5,688.6" fill="none"/>
<path d="M523.6,685.2 L581.3,651.9 L648.2,690.5" fill="none"/>
<path d="M648.2,732.5 L651.5,730.6 L651.5,688.6 L648.2,690.5 Z" fill="#fff"/>
<path d="M636.9,684.6 L644.5,685.8 L651.5,688.6 L651.5,722.2 L636.9,715.5 Z" fill="#fff"/>
<path d="M517.1,727.2 L587.2,767.7 L587.2,728.1 Q587.1,725.9 585.0,724.4 L517.1,685.2 Z" fill="#fff"/>
<path d="M517.1,717.7 L587.2,758.2"/>
<path d="M517.1,685.2 L585.0,724.4 Q587.1,725.9 587.2,728.1 L578.3,716.4 L523.6,685.2 Z" fill="#fff"/>
<path d="M589.6,756.2 Q594.8,758.2 595.2,763.1 L589.8,766.3 L589.6,756.2 Z" fill="#f4f4f4" stroke-width="1.3"/>
<path d="M470.1,765.6 L481.6,772.2 L481.6,832.7 L470.1,826.0 Z" fill="#fff"/>
<path d="M470.1,765.6 L481.6,759.0"/>
<path d="M481.6,747.7 L551.7,788.2 L551.7,810.7 L561.7,818.1 L561.7,878.9 L551.7,873.1 L481.6,832.7 Z" fill="#fff"/>
<path d="M551.7,788.2 L551.7,873.1"/>
<path d="M486.3,760.6 L545.5,794.8" fill="none"/>
<path d="M486.3,760.6 L486.3,769.0 L492.5,772.6 L492.5,769.2 L488.0,766.6" fill="none"/>
<path d="M545.5,792.8 L545.5,800.6 L538.2,796.4 L538.2,799.8 L542.7,802.4" fill="none"/>
<path d="M501.0,768.7 L501.0,791.6"/>
<path d="M498.5,776.4 L498.5,789.9"/>
<path d="M530.3,786.5 L530.3,805.7"/>
<path d="M533.4,797.8 L533.4,851.3"/>
<path d="M481.6,793.8 L489.1,797.8"/>
<path d="M533.4,826.0 L551.7,833.9"/>
<path d="M497.6,826.0 L497.6,828.8 L499.8,832.1 L533.4,851.3" fill="none"/>
<path d="M498.7,792.2 C491.2,794.2 487.2,802.2 488.0,809.2 C488.7,816.2 492.7,822.2 497.6,826.0 L521.3,838.4 L530.3,805.7 Z" fill="#fff"/>
<path d="M530.3,805.7 C522.7,807.2 517.2,815.2 516.9,823.7 C516.7,832.2 520.2,838.7 525.7,839.0 C529.2,839.2 532.2,837.2 533.4,834.2" fill="#fff"/>
<path d="M533.4,812.7 C527.7,813.7 523.2,819.2 523.1,824.2 C523.0,829.2 525.7,833.2 530.2,832.7" fill="none"/>
<path d="M533.4,816.7 C529.2,817.7 526.5,821.2 526.5,824.5 C526.5,827.7 528.2,830.2 531.2,829.7" fill="none"/>
<path d="M533.4,797.8 L533.4,851.3"/>
<circle cx="516.7" cy="810.2" r="69.8" fill="none" stroke-width="1.5"/>
<path d="M27.7,67.6 L181.2,604.8" stroke-width="1.6"/>
<path d="M191.8,67.6 L213.1,538.0" stroke-width="1.6"/>
<path d="M317.8,67.6 L356.4,684.6" stroke-width="1.6"/>
<path d="M444.4,67.6 L425.0,716.0" stroke-width="1.6"/>
<path d="M574.4,67.6 L529.0,762.0" stroke-width="1.6"/>
<path d="M721.7,67.6 L819.7,811.0" stroke-width="1.6"/>
<path d="M852.3,67.6 L867.1,765.0" stroke-width="1.6"/>
<text stroke="none" fill="#111" font-family="'Liberation Serif', serif" font-size="49.5" x="15.5" y="43.9" text-anchor="middle" transform="translate(15.5 0) scale(0.97 1) translate(-15.5 0)">1</text>
<text stroke="none" fill="#111" font-family="'Liberation Serif', serif" font-size="49.5" x="189.0" y="43.9" text-anchor="middle" transform="translate(189.0 0) scale(0.97 1) translate(-189.0 0)">2</text>
<text stroke="none" fill="#111" font-family="'Liberation Serif', serif" font-size="49.5" x="318.5" y="43.9" text-anchor="middle" transform="translate(318.5 0) scale(0.97 1) translate(-318.5 0)">3</text>
<text stroke="none" fill="#111" font-family="'Liberation Serif', serif" font-size="49.5" x="452.0" y="43.9" text-anchor="middle" transform="translate(452.0 0) scale(0.97 1) translate(-452.0 0)">4</text>
<text stroke="none" fill="#111" font-family="'Liberation Serif', serif" font-size="49.5" x="585.0" y="43.9" text-anchor="middle" transform="translate(585.0 0) scale(0.66 1) translate(-585.0 0)">A</text>
<text stroke="none" fill="#111" font-family="'Liberation Serif', serif" font-size="49.5" x="719.5" y="43.9" text-anchor="middle" transform="translate(719.5 0) scale(0.97 1) translate(-719.5 0)">5</text>
<text stroke="none" fill="#111" font-family="'Liberation Serif', serif" font-size="49.5" x="857.5" y="43.9" text-anchor="middle" transform="translate(857.5 0) scale(0.97 1) translate(-857.5 0)">6</text>
</svg>
</body></html>
